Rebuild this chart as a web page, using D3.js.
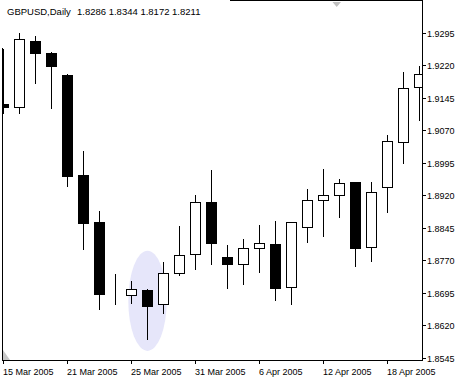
<!DOCTYPE html>
<html>
<head>
<meta charset="utf-8">
<script src="https://cdn.jsdelivr.net/npm/d3@7/dist/d3.min.js"></script>
<style>
  body { margin: 0; background: #fff; }
  svg { display: block; }
</style>
</head>
<body>
<div id="chart"></div>
<script>
// daily GBPUSD bars
const dates = ["15 Mar 2005","16 Mar 2005","17 Mar 2005","18 Mar 2005","21 Mar 2005","22 Mar 2005","23 Mar 2005",
  "24 Mar 2005","25 Mar 2005","28 Mar 2005","29 Mar 2005","30 Mar 2005","31 Mar 2005","1 Apr 2005","4 Apr 2005",
  "5 Apr 2005","6 Apr 2005","7 Apr 2005","8 Apr 2005","11 Apr 2005","12 Apr 2005","13 Apr 2005","14 Apr 2005",
  "15 Apr 2005","18 Apr 2005","19 Apr 2005","20 Apr 2005"]
const open  = [1.9131,1.9125,1.9276,1.9249,1.9198,1.8967,1.8858,1.8692,1.8689,1.8702,1.8669,1.8740,1.8784,1.8904,
  1.8777,1.8761,1.8799,1.8808,1.8708,1.8846,1.8909,1.8920,1.8951,1.8800,1.8939,1.9043,1.9171]
const high  = [1.9260,1.9297,1.9289,1.9253,1.9203,1.9025,1.8886,1.8740,1.8725,1.8706,1.8769,1.8852,1.8923,1.8981,
  1.8807,1.8822,1.8854,1.8863,1.8861,1.8936,1.8983,1.8960,1.8953,1.8953,1.9062,1.9207,1.9221]
const low   = [1.9110,1.9111,1.9180,1.9122,1.8942,1.8796,1.8657,1.8669,1.8672,1.8589,1.8648,1.8736,1.8751,1.8761,
  1.8707,1.8715,1.8742,1.8679,1.8669,1.8813,1.8827,1.8871,1.8758,1.8769,1.8882,1.8995,1.9095]
const close = [1.9124,1.9280,1.9249,1.9219,1.8965,1.8857,1.8692,1.8692,1.8703,1.8665,1.8740,1.8782,1.8904,1.8809,
  1.8762,1.8798,1.8809,1.8707,1.8859,1.8909,1.8920,1.8948,1.8799,1.8927,1.9045,1.9167,1.9200]

const timeTicks = ["15 Mar 2005","21 Mar 2005","25 Mar 2005","31 Mar 2005","6 Apr 2005","12 Apr 2005","18 Apr 2005"]
const priceTicks = [1.8545,1.8620,1.8695,1.8770,1.8845,1.8920,1.8995,1.9070,1.9145,1.9220,1.9295]
const symbol = "GBPUSD,Daily"
const lastBar = ["1.8286","1.8344","1.8172","1.8211"]

// shaded oval around the 28 Mar bar
const highlightDate = "28 Mar 2005"
const highlightRange = [1.8561, 1.8792]

const width = 462, height = 378
const pLeft = 2, pRight = 422, pTop = 0, pBottom = 360
const font = "'Liberation Sans', Arial, sans-serif"

const x = d3.scalePoint()
  .domain(dates)
  .range([3.5, 3.5 + 16 * (dates.length - 1)])

const y = d3.scaleLinear()
  .domain([1.8540, 1.93708])
  .range([pBottom, pTop])

const py = v => Math.round(y(v)) + 0.5

const svg = d3.select("#chart")
  .append("svg")
  .attr("width", width)
  .attr("height", height)
  .attr("viewBox", `0 0 ${width} ${height}`)
  .style("background", "#fff")

svg.append("clipPath").attr("id", "plot")
  .append("rect")
  .attr("x", pLeft).attr("y", pTop)
  .attr("width", pRight - pLeft).attr("height", pBottom - pTop)

const plot = svg.append("g").attr("clip-path", "url(#plot)")

plot.append("ellipse")
  .attr("cx", x(highlightDate))
  .attr("cy", (y(highlightRange[0]) + y(highlightRange[1])) / 2)
  .attr("rx", x.step() * 1.2)
  .attr("ry", (y(highlightRange[0]) - y(highlightRange[1])) / 2)
  .attr("fill", "#e6e6fa")

const bars = d3.range(dates.length)

plot.append("g")
  .attr("stroke", "#000")
  .attr("shape-rendering", "crispEdges")
.selectAll("line")
.data(bars)
.join("line")
  .attr("x1", i => x(dates[i])).attr("x2", i => x(dates[i]))
  .attr("y1", i => py(high[i])).attr("y2", i => py(low[i]))

plot.append("g")
  .attr("stroke", "#000")
  .attr("shape-rendering", "crispEdges")
.selectAll("rect")
.data(bars)
.join("rect")
  .attr("x", i => x(dates[i]) - 5)
  .attr("width", 10)
  .attr("y", i => py(Math.max(open[i], close[i])))
  .attr("height", i => py(Math.min(open[i], close[i])) - py(Math.max(open[i], close[i])))
  .attr("fill", i => close[i] < open[i] ? "#000" : "#fff")

// frame
const frame = svg.append("g")
  .attr("stroke", "#000")
  .attr("shape-rendering", "crispEdges")
frame.append("line").attr("x1", pLeft).attr("x2", pRight + 0.5).attr("y1", pBottom + 0.5).attr("y2", pBottom + 0.5)
frame.append("line").attr("x1", pRight + 0.5).attr("x2", pRight + 0.5).attr("y1", pTop).attr("y2", pBottom + 0.5)
frame.append("line").attr("x1", pLeft + 0.5).attr("x2", pLeft + 0.5).attr("y1", 48).attr("y2", pBottom + 0.5)
frame.append("line").attr("x1", 230).attr("x2", pRight + 0.5).attr("y1", 0.5).attr("y2", 0.5)

// grey markers
svg.append("path")
  .attr("d", "M332.5,2 L341,2 L336.7,7 Z")
  .attr("fill", "#c0c0c0")
svg.append("path")
  .attr("d", `M${pLeft + 1},350 L${pLeft + 1},${pBottom} L${pLeft + 8},${pBottom} Z`)
  .attr("fill", "#c8c8c8")

// price axis
const yAxis = svg.append("g")
  .attr("font-family", font)
  .attr("font-size", 9)
yAxis.selectAll("line")
.data(priceTicks)
.join("line")
  .attr("x1", pRight).attr("x2", pRight + 3.5)
  .attr("y1", d => py(d)).attr("y2", d => py(d))
  .attr("stroke", "#000")
  .attr("shape-rendering", "crispEdges")
yAxis.selectAll("text")
.data(priceTicks)
.join("text")
  .attr("x", 427)
  .attr("y", d => py(d) + 3)
  .attr("fill", "#000")
  .text(d => d.toFixed(4))

// time axis
const xAxis = svg.append("g")
  .attr("font-family", font)
  .attr("font-size", 9)
xAxis.selectAll("line")
.data(timeTicks)
.join("line")
  .attr("x1", d => x(d)).attr("x2", d => x(d))
  .attr("y1", pBottom).attr("y2", pBottom + 4)
  .attr("stroke", "#000")
  .attr("shape-rendering", "crispEdges")
xAxis.selectAll("text")
.data(timeTicks)
.join("text")
  .attr("x", d => x(d) - 0.5)
  .attr("y", 375)
  .attr("fill", "#000")
  .text(d => d)

// title
svg.append("text")
  .attr("x", 7).attr("y", 15)
  .attr("font-family", font).attr("font-size", 9.5)
  .attr("fill", "#000")
  .text(symbol)
svg.append("text")
  .attr("x", 77).attr("y", 15)
  .attr("font-family", font).attr("font-size", 9.5)
  .attr("fill", "#000")
  .text(lastBar.join(" "))
</script>
</body>
</html>
